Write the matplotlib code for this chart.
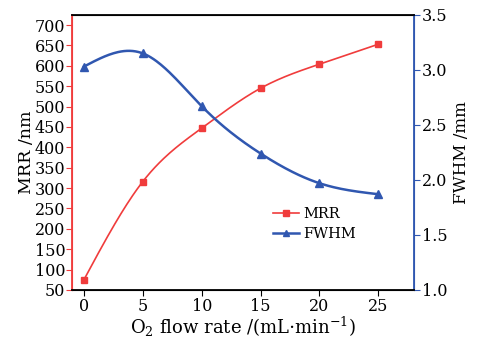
import numpy as np
import matplotlib
matplotlib.use("Agg")
import matplotlib.pyplot as plt

flow = [0, 5, 10, 15, 20, 25]
mrr = [75, 316, 447, 545, 604, 653]
fwhm = [3.03, 3.15, 2.67, 2.24, 1.97, 1.87]

RED = "#f03c3c"
BLUE = "#3057b0"


def spline(x, y, n=200):
    # natural cubic spline, only for drawing the smooth line
    x = np.asarray(x, float)
    y = np.asarray(y, float)
    k = len(x)
    h = np.diff(x)
    A = np.zeros((k, k))
    b = np.zeros(k)
    A[0, 0] = A[-1, -1] = 1
    for i in range(1, k - 1):
        A[i, i - 1] = h[i - 1]
        A[i, i] = 2 * (h[i - 1] + h[i])
        A[i, i + 1] = h[i]
        b[i] = 6 * ((y[i + 1] - y[i]) / h[i] - (y[i] - y[i - 1]) / h[i - 1])
    m = np.linalg.solve(A, b)
    xs = np.linspace(x[0], x[-1], n)
    idx = np.clip(np.searchsorted(x, xs) - 1, 0, k - 2)
    x0, x1 = x[idx], x[idx + 1]
    hh = x1 - x0
    t0, t1 = x1 - xs, xs - x0
    ys = (m[idx] * t0**3 + m[idx + 1] * t1**3) / (6 * hh) \
        + (y[idx] / hh - m[idx] * hh / 6) * t0 \
        + (y[idx + 1] / hh - m[idx + 1] * hh / 6) * t1
    return xs, ys


plt.rcParams["font.family"] = "DejaVu Serif"
plt.rcParams["mathtext.fontset"] = "dejavuserif"

fig, ax = plt.subplots(figsize=(4.81, 3.46), dpi=100)
fig.subplots_adjust(left=0.15, right=0.86, top=0.957, bottom=0.162)
ax2 = ax.twinx()

xs, ys = spline(flow, mrr)
ax.plot(xs, ys, color=RED, lw=1.2)
ax.plot(flow, mrr, "s", color=RED, ms=5)
xs, ys = spline(flow, fwhm)
ax2.plot(xs, ys, color=BLUE, lw=1.8)
ax2.plot(flow, fwhm, "^", color=BLUE, ms=5.5)

ax.plot([], [], "-s", color=RED, lw=1.2, ms=4, label="MRR")
ax.plot([], [], "-^", color=BLUE, lw=1.8, ms=5, label="FWHM")

ax.set_xlim(-1, 28)
ax.set_ylim(50, 725)
ax2.set_ylim(1.0, 3.5)
ax.set_xticks(range(0, 26, 5))
ax.set_yticks(range(50, 701, 50))
ax2.set_yticks([1.0, 1.5, 2.0, 2.5, 3.0, 3.5])
ax2.set_yticklabels(["1.0", "1.5", "2.0", "2.5", "3.0", "3.5"])

ax.spines["left"].set_color(RED)
ax2.spines["left"].set_color(RED)
ax.spines["right"].set_color(BLUE)
ax2.spines["right"].set_color(BLUE)
for s in ax2.spines.values():
    s.set_linewidth(1.3)
ax.tick_params(axis="y", colors=RED, labelcolor="black", labelsize=11.5, length=4, pad=1)
ax.tick_params(axis="x", labelsize=11.5, length=4, pad=2)
ax2.tick_params(axis="y", colors=BLUE, labelcolor="black", labelsize=11.5, length=4, pad=2)

ax.set_xlabel(r"O$_2$ flow rate /(mL$\cdot$min$^{-1}$)", fontsize=13, labelpad=0)
ax.set_ylabel("MRR /nm", fontsize=12.5, labelpad=0)
ax2.set_ylabel("FWHM /mm", fontsize=12, labelpad=4)

ax.legend(loc="lower right", bbox_to_anchor=(0.87, 0.13), frameon=False,
          fontsize=10.5, handlelength=1.8, labelspacing=0.4, handletextpad=0.3)

fig.savefig("out.png", dpi=100)
